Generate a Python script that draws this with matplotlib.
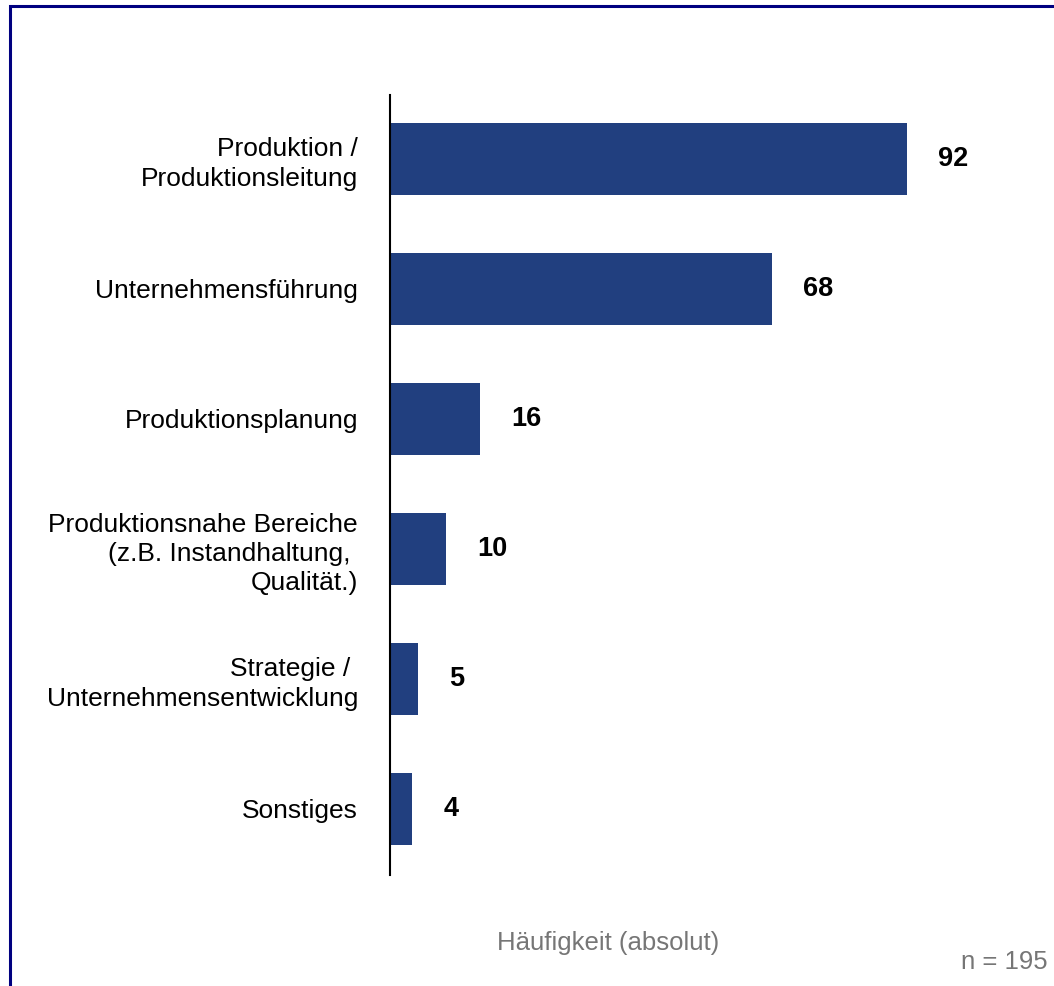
import matplotlib.pyplot as plt
from matplotlib.patches import Rectangle

categories = ['Produktion /\nProduktionsleitung',
              'Unternehmensführung',
              'Produktionsplanung',
              'Produktionsnahe Bereiche\n(z.B. Instandhaltung, \nQualität.)',
              'Strategie / \nUnternehmensentwicklung',
              'Sonstiges']
values = [92, 68, 16, 10, 5, 4]

plt.rcParams['font.family'] = ['Liberation Sans', 'DejaVu Sans']

fig = plt.figure(figsize=(10.54, 9.86), dpi=100)
W, H = 1054, 986
ax = fig.add_axes([390 / W, 1 - 875 / H, 620 / W, 780 / H])

pos = list(range(len(values)))
ax.barh(pos, values, height=0.554, color='#213F7F')
ax.set_ylim(5.51, -0.49)
ax.set_xlim(0, 620 / 5.62)

for p, v in zip(pos, values):
    ax.text(v + 31 / 5.62, p, str(v), ha='left', va='center',
            fontsize=19.5, fontweight='bold', color='black')

ax.set_yticks(pos)
ax.set_yticklabels(categories, fontsize=19, color='black', linespacing=1.28)
ax.tick_params(axis='y', length=0, pad=23)
ax.set_xticks([])
for s in ['top', 'right', 'bottom']:
    ax.spines[s].set_visible(False)
ax.spines['left'].set_linewidth(1.5)
ax.spines['left'].set_color('black')

fig.text(608 / W, 1 - 943 / H, 'Häufigkeit (absolut)', ha='center', va='center',
         fontsize=18.5, color='#767676')
fig.text(1048 / W, 1 - 962 / H, 'n = 195', ha='right', va='center',
         fontsize=18.5, color='#767676')

# navy frame, open at the right and bottom edges
fig.patches.append(Rectangle((9.5 / W, -0.1), 1.2, 1 - 5.5 / H + 0.1,
                             transform=fig.transFigure, fill=False,
                             edgecolor='#000080', linewidth=2.2))

fig.savefig('out.png', dpi=100)
